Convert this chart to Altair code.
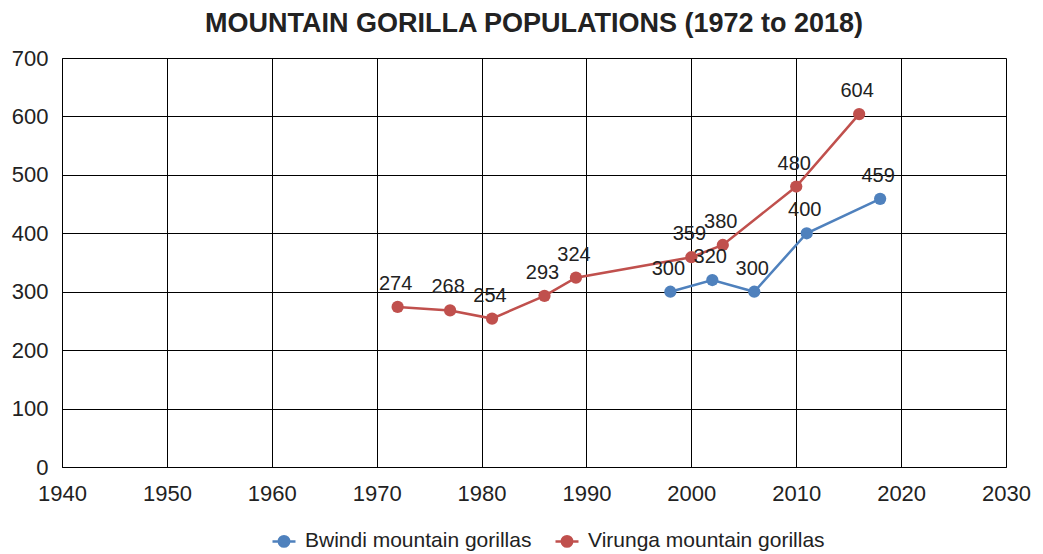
import altair as alt
import pandas as pd

bwindi_years = [1998, 2002, 2006, 2011, 2018]
bwindi_pop = [300, 320, 300, 400, 459]
virunga_years = [1972, 1977, 1981, 1986, 1989, 2000, 2003, 2010, 2016]
virunga_pop = [274, 268, 254, 293, 324, 359, 380, 480, 604]

series_names = ["Bwindi mountain gorillas", "Virunga mountain gorillas"]
series_colors = ["#4F81BD", "#C0504D"]
x_ticks = [1940, 1950, 1960, 1970, 1980, 1990, 2000, 2010, 2020, 2030]
y_ticks = [0, 100, 200, 300, 400, 500, 600, 700]

rows = []
for y, p in zip(bwindi_years, bwindi_pop):
    rows.append({"year": y, "pop": p, "series": series_names[0]})
for y, p in zip(virunga_years, virunga_pop):
    rows.append({"year": y, "pop": p, "series": series_names[1]})
df = pd.DataFrame(rows)

FONT = "Liberation Sans"
sym_path = "M-1,0L1,0M0.45,0A0.45,0.45,0,1,1,-0.45,0A0.45,0.45,0,1,1,0.45,0Z"

legend = alt.Legend(
    title=None, orient="none", direction="horizontal",
    legendX=209, legendY=470,
    symbolType=sym_path, symbolSize=529, symbolStrokeWidth=2.5,
    labelFont=FONT, labelFontSize=21, labelColor="#222",
    labelOffset=8, columnPadding=18, labelLimit=400,
)
col_scale = alt.Scale(domain=series_names, range=series_colors)

x_enc = alt.X("year:Q", scale=alt.Scale(domain=[1940, 2030], nice=False),
              axis=alt.Axis(values=x_ticks, title=None, format="d", grid=True,
                            gridColor="#000", gridOpacity=1, gridWidth=1,
                            domainColor="#000", domainWidth=1, ticks=False,
                            labelFlush=False,
                            labelFont=FONT, labelFontSize=22, labelColor="#222",
                            labelPadding=16))
y_enc = alt.Y("pop:Q", scale=alt.Scale(domain=[0, 700], nice=False),
              axis=alt.Axis(values=y_ticks, title=None, grid=True,
                            gridColor="#000", gridOpacity=1, gridWidth=1,
                            domainColor="#000", domainWidth=1, ticks=False,
                            labelFlush=False,
                            labelFont=FONT, labelFontSize=22, labelColor="#222",
                            labelPadding=14))

base = alt.Chart(df)
lines = base.mark_line(strokeWidth=2.5).encode(
    x=x_enc, y=y_enc,
    stroke=alt.Stroke("series:N", scale=col_scale, legend=legend),
    detail="series:N",
)
points = base.mark_point(filled=True, size=150, opacity=1).encode(
    x="year:Q", y="pop:Q",
    fill=alt.Fill("series:N", scale=col_scale, legend=legend),
)
labels = base.mark_text(font=FONT, fontSize=20, color="#222", dy=-23, dx=-2).encode(
    x="year:Q", y="pop:Q", text="pop:Q",
)

chart = alt.layer(lines, points, labels).properties(
    width=944, height=409,
    title=alt.TitleParams("MOUNTAIN GORILLA POPULATIONS (1972 to 2018)",
                          font=FONT, fontSize=27, fontWeight="bold",
                          color="#222", anchor="middle", offset=9),
    autosize=alt.AutoSizeParams(type="none"),
    padding={"left": 54, "top": 50, "right": 29, "bottom": 86},
).configure_view(stroke="#000", strokeWidth=1).configure(background="white")

chart.save("out.html", embed_options={"renderer": "svg", "actions": False})
